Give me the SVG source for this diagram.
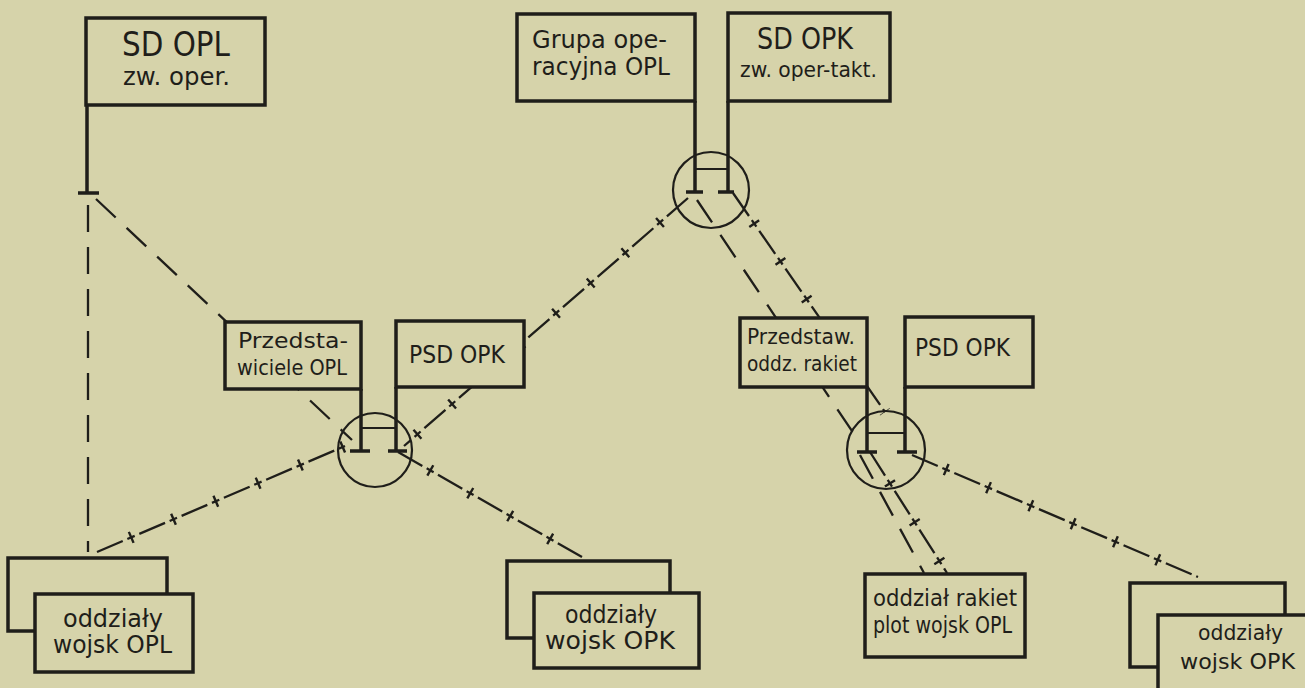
<svg xmlns="http://www.w3.org/2000/svg" width="1305" height="688" viewBox="0 0 1305 688">
<style>
.bx{fill:#d6d3aa;stroke:#1f1e1a;stroke-width:3.5}
.pole{stroke:#1f1e1a;stroke-width:3.5;fill:none}
.bar{stroke:#1f1e1a;stroke-width:2;fill:none}
.cir{stroke:#1f1e1a;stroke-width:2.2;fill:none}
.pl{stroke:#1f1e1a;stroke-width:2.3;fill:none;stroke-dasharray:27 15}
.xl{stroke:#1f1e1a;stroke-width:2.3;fill:none;stroke-dasharray:28 5 8 5}
.xt{stroke:#1f1e1a;stroke-width:12;fill:none;stroke-dasharray:2.4 43.6;stroke-dashoffset:10}
text{font-family:"DejaVu Sans","Liberation Sans",sans-serif;fill:#1f1e1a;text-anchor:start}
</style>
<rect width="1305" height="688" fill="#d6d3aa"/>
<g id="connectors">
<path class="pl" d="M88 205 V552"/>
<path class="pl" d="M96 199 L352 440"/>
<path class="xl" d="M97 552 L345 446"/><path class="xt" d="M97 552 L345 446"/>
<path class="xl" d="M398 452 L582 557"/><path class="xt" d="M398 452 L582 557"/>
<path class="xl" d="M688 198 L404 446"/><path class="xt" d="M688 198 L404 446"/>
<path class="pl" d="M697 200 L858 440"/>
<path class="xl" d="M733 193 L885 412"/><path class="xt" d="M733 193 L885 412"/>
<path class="pl" d="M860 455 L924 573"/>
<path class="xl" d="M870 452 L947 573"/><path class="xt" d="M870 452 L947 573"/>
<path class="xl" d="M912 455 L1198 577"/><path class="xt" d="M912 455 L1198 577"/>
</g>
<g id="sd-opl">
<path class="pole" d="M87 105 V193 M78 193 H99"/>
<rect class="bx" x="86" y="18" width="179" height="87"/>
<text x="122" y="56" font-size="34" textLength="108" lengthAdjust="spacingAndGlyphs">SD OPL</text>
<text x="123" y="85" font-size="24" textLength="107" lengthAdjust="spacingAndGlyphs">zw. oper.</text>
</g>
<g id="top-hub">
<path class="pole" d="M695 101 V192 M686 192 H703 M728 101 V192 M718 192 H734"/>
<path class="bar" d="M695 169 H728"/>
<circle class="cir" cx="711" cy="190" r="38"/>
</g>
<g id="grupa">
<rect class="bx" x="517" y="14" width="178" height="87"/>
<text x="532" y="48" font-size="24" textLength="135" lengthAdjust="spacingAndGlyphs">Grupa ope-</text>
<text x="532" y="75" font-size="24" textLength="138" lengthAdjust="spacingAndGlyphs">racyjna OPL</text>
</g>
<g id="sd-opk">
<rect class="bx" x="728" y="13" width="162" height="88"/>
<text x="757" y="49" font-size="30" textLength="96" lengthAdjust="spacingAndGlyphs">SD OPK</text>
<text x="740" y="77" font-size="21" textLength="137" lengthAdjust="spacingAndGlyphs">zw. oper-takt.</text>
</g>
<g id="mid-hub">
<path class="pole" d="M361 389 V451 M350 451 H370 M396 387 V451 M388 451 H407"/>
<path class="bar" d="M361 428 H396"/>
<circle class="cir" cx="375" cy="450" r="37"/>
</g>
<g id="przedstawiciele">
<rect class="bx" x="225" y="322" width="136" height="67"/>
<text x="238" y="348" font-size="21" textLength="110" lengthAdjust="spacingAndGlyphs">Przedsta-</text>
<text x="237" y="375" font-size="21" textLength="110" lengthAdjust="spacingAndGlyphs">wiciele OPL</text>
</g>
<g id="psd-opk-1">
<rect class="bx" x="396" y="321" width="128" height="66"/>
<text x="409" y="363" font-size="25" textLength="96" lengthAdjust="spacingAndGlyphs">PSD OPK</text>
</g>
<g id="right-hub">
<path class="pole" d="M867 387 V452 M857 452 H877 M905 387 V452 M897 452 H917"/>
<path class="bar" d="M867 433 H905"/>
<circle class="cir" cx="886" cy="450" r="39"/>
</g>
<g id="przedstaw">
<rect class="bx" x="740" y="318" width="127" height="69"/>
<text x="747" y="344" font-size="21" textLength="108" lengthAdjust="spacingAndGlyphs">Przedstaw.</text>
<text x="747" y="371" font-size="21" textLength="110" lengthAdjust="spacingAndGlyphs">oddz. rakiet</text>
</g>
<g id="psd-opk-2">
<rect class="bx" x="905" y="317" width="128" height="70"/>
<text x="915" y="356" font-size="25" textLength="95" lengthAdjust="spacingAndGlyphs">PSD OPK</text>
</g>
<g id="oddzialy-opl">
<rect class="bx" x="8" y="558" width="159" height="73"/>
<rect class="bx" x="35" y="594" width="158" height="78"/>
<text x="63" y="627" font-size="24" textLength="100" lengthAdjust="spacingAndGlyphs">oddziały</text>
<text x="53" y="653" font-size="24" textLength="119" lengthAdjust="spacingAndGlyphs">wojsk OPL</text>
</g>
<g id="oddzialy-opk-1">
<rect class="bx" x="507" y="561" width="163" height="77"/>
<rect class="bx" x="534" y="593" width="165" height="75"/>
<text x="565" y="623" font-size="24" textLength="92" lengthAdjust="spacingAndGlyphs">oddziały</text>
<text x="545" y="649" font-size="24" textLength="130" lengthAdjust="spacingAndGlyphs">wojsk OPK</text>
</g>
<g id="oddzial-rakiet">
<rect class="bx" x="865" y="574" width="160" height="83"/>
<text x="873" y="606" font-size="23" textLength="144" lengthAdjust="spacingAndGlyphs">oddział rakiet</text>
<text x="873" y="633" font-size="23" textLength="139" lengthAdjust="spacingAndGlyphs">plot wojsk OPL</text>
</g>
<g id="oddzialy-opk-2">
<rect class="bx" x="1130" y="583" width="155" height="84"/>
<rect class="bx" x="1158" y="615" width="170" height="90"/>
<text x="1198" y="640" font-size="22" textLength="85" lengthAdjust="spacingAndGlyphs">oddziały</text>
<text x="1180" y="669" font-size="22" textLength="115" lengthAdjust="spacingAndGlyphs">wojsk OPK</text>
</g>
</svg>
